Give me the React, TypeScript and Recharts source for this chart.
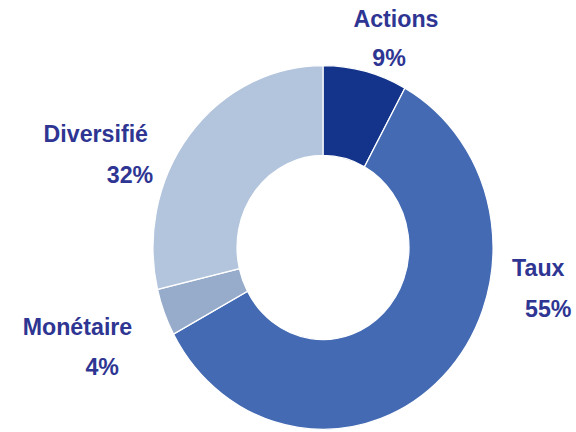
import React from "react";
import { PieChart, Pie, Cell } from "recharts";

// Categories and slice shares as drawn (per cent of the ring)
const categories = ["Actions", "Taux", "Monétaire", "Diversifié"];
const shares = [8.0, 59.1, 4.2, 28.7];
// Percentage labels as printed on the chart
const pctLabels = ["9%", "55%", "4%", "32%"];
const colors = ["#13348A", "#436AB3", "#97ACCA", "#B3C4DD"];

const LABEL_COLOR = "#2E3592";
const FONT = "'Liberation Sans', Arial, sans-serif";
const STRETCH = 1.07;

// Label placement relative to the ring centre: [name dx, name dy, pct dx, pct dy]
const labelOffsets: Record<string, number[]> = {
  Actions: [73, -205.8, 66, -169.9],
  Taux: [215.3, 26.6, 225.3, 64.7],
  "Monétaire": [-245.5, 81.8, -220.8, 119.2],
  "Diversifié": [-227.2, -98.3, -193, -60.6],
};

const data = categories.map((name, i) => ({
  name,
  value: shares[i],
  pct: pctLabels[i],
}));

const CX = 323;
const CY = 231.3;

const renderLabel = (props: any) => {
  const cx = typeof props.cx === "number" ? props.cx : CX;
  const cy = typeof props.cy === "number" ? props.cy : CY;
  const name = props.name ?? props.payload?.name;
  const pct = props.payload?.pct ?? props.pct;
  const off = labelOffsets[name];
  if (!off) return null;
  return (
    <g key={`lbl-${name}`}>
      <text
        x={cx + off[0]}
        y={cy + off[1]}
        textAnchor="middle"
        fill={LABEL_COLOR}
        fontFamily={FONT}
        fontWeight="bold"
        fontSize={23.2}
      >
        {name}
      </text>
      <text
        x={cx + off[2]}
        y={cy + off[3]}
        textAnchor="middle"
        fill={LABEL_COLOR}
        fontFamily={FONT}
        fontWeight="bold"
        fontSize={23.2}
      >
        {pct}
      </text>
    </g>
  );
};

export default function App() {
  return (
    <div
      style={{
        position: "absolute",
        top: 0,
        left: 0,
        width: 576,
        height: 404,
        transform: `scaleY(${STRETCH})`,
        transformOrigin: "top left",
        background: "#fff",
      }}
    >
      <PieChart width={576} height={404} margin={{ top: 0, right: 0, bottom: 0, left: 0 }}>
        <Pie
          data={data}
          dataKey="value"
          nameKey="name"
          cx={CX}
          cy={CY}
          innerRadius={86}
          outerRadius={170}
          startAngle={90}
          endAngle={-270}
          stroke="#ffffff"
          strokeWidth={1.2}
          label={renderLabel}
          labelLine={false}
          isAnimationActive={false}
        >
          {data.map((d, i) => (
            <Cell key={d.name} fill={colors[i]} />
          ))}
        </Pie>
      </PieChart>
    </div>
  );
}
